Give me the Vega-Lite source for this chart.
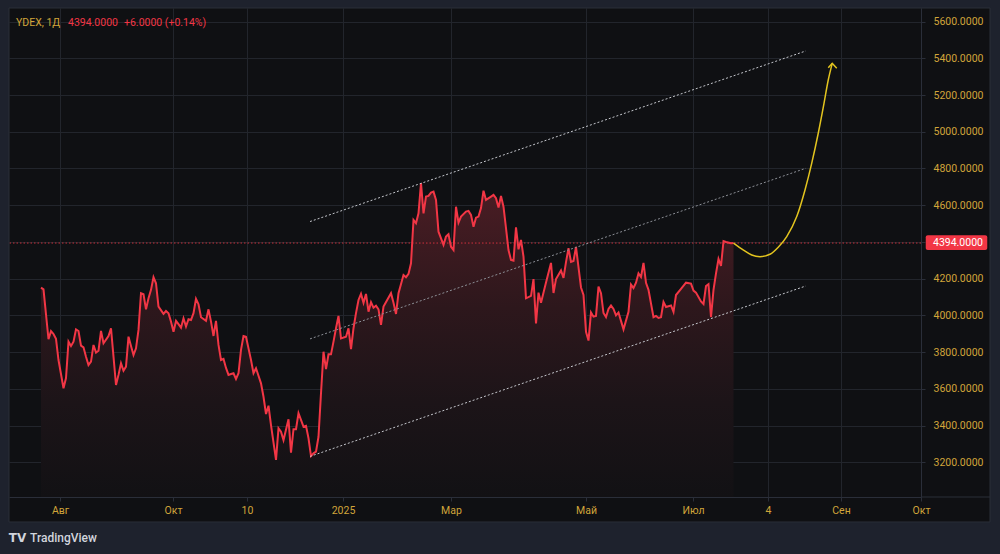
{
  "$schema": "https://vega.github.io/schema/vega-lite/v6.json",
  "width": 912,
  "height": 489,
  "autosize": {"type": "none"},
  "padding": {"left": 9, "top": 8, "right": 79, "bottom": 57},
  "background": "#0f1013",
  "config": {"view": {"stroke": null}, "font": "Roboto"},
  "datasets": {
    "price": [
      {"bar":0,"close":4151},{"bar":1,"close":4142},{"bar":3,"close":3870},{"bar":4,"close":3915},{"bar":5,"close":3899},{"bar":6,"close":3872},{"bar":7,"close":3757},{"bar":9,"close":3603},{"bar":10,"close":3659},{"bar":11,"close":3857},{"bar":12,"close":3833},{"bar":13,"close":3857},{"bar":14,"close":3924},{"bar":15,"close":3915},{"bar":16,"close":3835},{"bar":17,"close":3826},{"bar":18,"close":3775},{"bar":19,"close":3730},{"bar":20,"close":3748},{"bar":21,"close":3839},{"bar":22,"close":3797},{"bar":23,"close":3808},{"bar":24,"close":3915},{"bar":25,"close":3848},{"bar":27,"close":3888},{"bar":28,"close":3930},{"bar":29,"close":3775},{"bar":30,"close":3621},{"bar":31,"close":3676},{"bar":32,"close":3739},{"bar":33,"close":3699},{"bar":34,"close":3721},{"bar":35,"close":3884},{"bar":36,"close":3833},{"bar":37,"close":3784},{"bar":38,"close":3821},{"bar":39,"close":3921},{"bar":40,"close":4121},{"bar":41,"close":4115},{"bar":42,"close":4033},{"bar":43,"close":4093},{"bar":44,"close":4139},{"bar":45,"close":4208},{"bar":46,"close":4175},{"bar":47,"close":4048},{"bar":49,"close":4008},{"bar":50,"close":4024},{"bar":51,"close":4012},{"bar":52,"close":3966},{"bar":53,"close":3911},{"bar":54,"close":3970},{"bar":55,"close":3952},{"bar":56,"close":3933},{"bar":57,"close":3984},{"bar":58,"close":3939},{"bar":59,"close":3979},{"bar":60,"close":3975},{"bar":61,"close":4012},{"bar":62,"close":4090},{"bar":63,"close":4061},{"bar":64,"close":3990},{"bar":66,"close":3971},{"bar":67,"close":4033},{"bar":68,"close":3966},{"bar":69,"close":3888},{"bar":70,"close":3970},{"bar":71,"close":3839},{"bar":72,"close":3757},{"bar":73,"close":3763},{"bar":74,"close":3714},{"bar":75,"close":3676},{"bar":76,"close":3681},{"bar":77,"close":3685},{"bar":78,"close":3654},{"bar":79,"close":3685},{"bar":80,"close":3812},{"bar":81,"close":3888},{"bar":82,"close":3884},{"bar":84,"close":3757},{"bar":85,"close":3685},{"bar":86,"close":3712},{"bar":88,"close":3630},{"bar":89,"close":3557},{"bar":90,"close":3463},{"bar":91,"close":3508},{"bar":92,"close":3403},{"bar":94,"close":3213},{"bar":95,"close":3385},{"bar":96,"close":3367},{"bar":97,"close":3321},{"bar":99,"close":3434},{"bar":100,"close":3252},{"bar":101,"close":3380},{"bar":102,"close":3380},{"bar":103,"close":3467},{"bar":105,"close":3394},{"bar":106,"close":3399},{"bar":107,"close":3331},{"bar":108,"close":3234},{"bar":109,"close":3249},{"bar":110,"close":3258},{"bar":111,"close":3339},{"bar":112,"close":3576},{"bar":113,"close":3802},{"bar":114,"close":3707},{"bar":115,"close":3788},{"bar":116,"close":3788},{"bar":117,"close":3857},{"bar":118,"close":3930},{"bar":119,"close":3997},{"bar":120,"close":3875},{"bar":122,"close":3884},{"bar":123,"close":3930},{"bar":124,"close":3816},{"bar":125,"close":3930},{"bar":126,"close":4012},{"bar":127,"close":4084},{"bar":128,"close":4117},{"bar":129,"close":4069},{"bar":130,"close":4117},{"bar":131,"close":4020},{"bar":132,"close":4072},{"bar":133,"close":4042},{"bar":134,"close":4053},{"bar":135,"close":4033},{"bar":136,"close":3948},{"bar":137,"close":4048},{"bar":140,"close":4121},{"bar":141,"close":4069},{"bar":142,"close":4008},{"bar":143,"close":4121},{"bar":145,"close":4220},{"bar":146,"close":4208},{"bar":147,"close":4226},{"bar":148,"close":4284},{"bar":149,"close":4520},{"bar":150,"close":4502},{"bar":151,"close":4556},{"bar":152,"close":4720},{"bar":153,"close":4556},{"bar":154,"close":4647},{"bar":155,"close":4651},{"bar":156,"close":4669},{"bar":157,"close":4674},{"bar":158,"close":4629},{"bar":159,"close":4456},{"bar":161,"close":4384},{"bar":162,"close":4429},{"bar":163,"close":4442},{"bar":164,"close":4374},{"bar":165,"close":4356},{"bar":166,"close":4592},{"bar":167,"close":4505},{"bar":168,"close":4538},{"bar":170,"close":4565},{"bar":171,"close":4569},{"bar":172,"close":4547},{"bar":173,"close":4483},{"bar":174,"close":4532},{"bar":175,"close":4538},{"bar":176,"close":4584},{"bar":177,"close":4679},{"bar":178,"close":4629},{"bar":180,"close":4647},{"bar":181,"close":4656},{"bar":182,"close":4638},{"bar":183,"close":4587},{"bar":184,"close":4651},{"bar":185,"close":4592},{"bar":186,"close":4475},{"bar":187,"close":4356},{"bar":188,"close":4302},{"bar":189,"close":4298},{"bar":190,"close":4480},{"bar":191,"close":4360},{"bar":192,"close":4411},{"bar":193,"close":4320},{"bar":194,"close":4093},{"bar":196,"close":4106},{"bar":197,"close":4198},{"bar":198,"close":3956},{"bar":199,"close":4124},{"bar":200,"close":4069},{"bar":202,"close":4179},{"bar":204,"close":4286},{"bar":205,"close":4122},{"bar":206,"close":4198},{"bar":208,"close":4245},{"bar":209,"close":4204},{"bar":210,"close":4290},{"bar":211,"close":4366},{"bar":212,"close":4291},{"bar":213,"close":4296},{"bar":214,"close":4373},{"bar":216,"close":4152},{"bar":217,"close":4111},{"bar":218,"close":3911},{"bar":219,"close":3863},{"bar":220,"close":4016},{"bar":221,"close":3993},{"bar":222,"close":3997},{"bar":223,"close":4157},{"bar":224,"close":4121},{"bar":225,"close":4013},{"bar":226,"close":3991},{"bar":227,"close":4035},{"bar":228,"close":4054},{"bar":229,"close":4035},{"bar":230,"close":4000},{"bar":231,"close":4016},{"bar":232,"close":3970},{"bar":233,"close":3924},{"bar":235,"close":4020},{"bar":236,"close":4168},{"bar":237,"close":4149},{"bar":238,"close":4178},{"bar":239,"close":4229},{"bar":240,"close":4209},{"bar":241,"close":4286},{"bar":242,"close":4177},{"bar":243,"close":4139},{"bar":245,"close":3990},{"bar":246,"close":3997},{"bar":247,"close":3986},{"bar":248,"close":3990},{"bar":249,"close":4073},{"bar":250,"close":4046},{"bar":252,"close":4054},{"bar":253,"close":4019},{"bar":254,"close":4111},{"bar":256,"close":4144},{"bar":258,"close":4178},{"bar":260,"close":4173},{"bar":261,"close":4135},{"bar":262,"close":4124},{"bar":264,"close":4076},{"bar":265,"close":4062},{"bar":266,"close":4160},{"bar":267,"close":4170},{"bar":268,"close":3991},{"bar":269,"close":4139},{"bar":270,"close":4229},{"bar":271,"close":4307},{"bar":272,"close":4269},{"bar":273,"close":4405},{"bar":274,"close":4400},{"bar":276,"close":4393},{"bar":277,"close":4394}
    ],
    "forecast": [
      {"bar":277,"level":4394},{"bar":281,"level":4356},{"bar":284.3,"level":4329},{"bar":287.6,"level":4320},{"bar":291.6,"level":4333},{"bar":294.9,"level":4371},{"bar":298.3,"level":4429},{"bar":302.3,"level":4538},{"bar":305.6,"level":4683},{"bar":308.3,"level":4829},{"bar":310.9,"level":4992},{"bar":313.2,"level":5155},{"bar":314.9,"level":5282},{"bar":316.5,"level":5373}
    ],
    "arrowhead": [
      {"bar":314.9,"level":5349},{"bar":316.5,"level":5373},{"bar":318.3,"level":5346}
    ],
    "channel": [
      {"line":"upper","b0":107.6,"p0":4511,"b1":305.9,"p1":5440},
      {"line":"middle","b0":107.6,"p0":3872,"b1":305.9,"p1":4801},
      {"line":"lower","b0":107.6,"p0":3232,"b1":305.9,"p1":4160}
    ]
  },
  "layer": [
    {
      "data": {"name": "price"},
      "mark": {"type": "area", "clip": true, "color": {"gradient": "linear", "x1": 1, "y1": 1, "x2": 1, "y2": 0, "stops": [{"offset": 0, "color": "#121114"}, {"offset": 0.3, "color": "#1c1418"}, {"offset": 0.6, "color": "#2d171c"}, {"offset": 1, "color": "#4b1d24"}]}},
      "encoding": {
        "x": {"field": "bar", "type": "quantitative", "scale": {"domain": [-12.8, 352], "nice": false, "zero": false},
          "axis": {"values": [7.6, 52.8, 82.4, 120.8, 164, 218, 260.8, 290.8, 320, 352],
            "labelExpr": "datum.value < 20 ? 'Авг' : datum.value < 60 ? 'Окт' : datum.value < 100 ? '10' : datum.value < 140 ? '2025' : datum.value < 190 ? 'Мар' : datum.value < 240 ? 'Май' : datum.value < 275 ? 'Июл' : datum.value < 305 ? '4' : datum.value < 340 ? 'Сен' : 'Окт'",
            "title": null, "grid": true, "gridColor": "#22252c", "domainColor": "#2a2e39", "tickColor": "#2a2e39", "tickSize": 4,
            "labelColor": "#d1a53a", "labelFont": "Roboto", "labelFontSize": 10.5, "labelPadding": 9, "labelBaseline": "middle",
            "labelFlush": false, "labelOverlap": false, "labelBound": false}},
        "y": {"field": "close", "type": "quantitative", "scale": {"domain": [3011, 5674], "nice": false, "zero": false},
          "axis": {"orient": "right", "values": [3200, 3400, 3600, 3800, 4000, 4200, 4400, 4600, 4800, 5000, 5200, 5400, 5600],
            "format": ".4f", "title": null, "grid": true, "gridColor": "#22252c", "domainColor": "#2a2e39", "tickColor": "#2a2e39",
            "tickSize": 4, "labelPadding": 8, "labelColor": "#d1a53a", "labelFont": "Roboto", "labelFontSize": 10.5, "labelOverlap": false}},
        "y2": {"datum": 3011}
      }
    },
    {
      "data": {"name": "price"},
      "mark": {"type": "line", "color": "#f23645", "strokeWidth": 2, "clip": true},
      "encoding": {
        "x": {"field": "bar", "type": "quantitative"},
        "y": {"field": "close", "type": "quantitative"}
      }
    },
    {
      "data": {"values": [{}]},
      "mark": {"type": "rule", "color": "#f23645", "strokeWidth": 1, "strokeDash": [1.5, 2], "opacity": 0.8},
      "encoding": {"y": {"datum": 4394, "type": "quantitative"}}
    },
    {
      "data": {"name": "channel"},
      "mark": {"type": "rule", "strokeWidth": 1, "strokeDash": [2, 2]},
      "encoding": {
        "x": {"field": "b0", "type": "quantitative"},
        "x2": {"field": "b1"},
        "y": {"field": "p0", "type": "quantitative"},
        "y2": {"field": "p1"},
        "color": {"field": "line", "type": "nominal", "scale": {"domain": ["upper", "middle", "lower"], "range": ["#c4c6cc", "#8c8f96", "#c4c6cc"]}, "legend": null}
      }
    },
    {
      "data": {"name": "forecast"},
      "mark": {"type": "line", "color": "#e3c41f", "strokeWidth": 1.5, "interpolate": "monotone"},
      "encoding": {
        "x": {"field": "bar", "type": "quantitative"},
        "y": {"field": "level", "type": "quantitative"}
      }
    },
    {
      "data": {"name": "arrowhead"},
      "mark": {"type": "line", "color": "#e3c41f", "strokeWidth": 1.5},
      "encoding": {
        "x": {"field": "bar", "type": "quantitative"},
        "y": {"field": "level", "type": "quantitative"}
      }
    },
    {
      "data": {"values": [{}]},
      "mark": {"type": "rect", "fill": "#f23645", "cornerRadius": 2, "clip": false},
      "encoding": {
        "x": {"datum": 353.9, "type": "quantitative"}, "x2": {"datum": 378.5},
        "y": {"datum": 4436, "type": "quantitative"}, "y2": {"datum": 4356}
      }
    },
    {
      "data": {"values": [{}]},
      "mark": {"type": "text", "text": "4394.0000", "color": "#ffffff", "font": "Roboto", "fontSize": 10.5, "align": "left", "baseline": "middle", "clip": false},
      "encoding": {"x": {"datum": 356.8, "type": "quantitative"}, "y": {"datum": 4394, "type": "quantitative"}}
    },
    {
      "data": {"values": [{}]},
      "mark": {"type": "text", "text": "YDEX, 1Д", "color": "#d1a53a", "font": "Roboto", "fontSize": 10.5, "align": "left", "baseline": "middle", "clip": false},
      "encoding": {"x": {"datum": -10, "type": "quantitative"}, "y": {"datum": 5594, "type": "quantitative"}}
    },
    {
      "data": {"values": [{}]},
      "mark": {"type": "text", "text": "4394.0000", "color": "#f23645", "font": "Roboto", "fontSize": 10.5, "align": "left", "baseline": "middle", "clip": false},
      "encoding": {"x": {"datum": 10.8, "type": "quantitative"}, "y": {"datum": 5594, "type": "quantitative"}}
    },
    {
      "data": {"values": [{}]},
      "mark": {"type": "text", "text": "+6.0000 (+0.14%)", "color": "#f23645", "font": "Roboto", "fontSize": 10.5, "align": "left", "baseline": "middle", "clip": false},
      "encoding": {"x": {"datum": 33.2, "type": "quantitative"}, "y": {"datum": 5594, "type": "quantitative"}}
    },
    {
      "data": {"values": [{}]},
      "mark": {"type": "rule", "color": "#2a2e39", "strokeWidth": 1, "clip": false},
      "encoding": {"x": {"datum": 352, "type": "quantitative"}, "x2": {"datum": 379.6}, "y": {"datum": 3011, "type": "quantitative"}}
    },
    {
      "data": {"values": [{}]},
      "mark": {"type": "rect", "fill": "#1e222d", "clip": false},
      "encoding": {"x": {"datum": -20, "type": "quantitative"}, "x2": {"datum": -12.8}, "y": {"datum": 2600, "type": "quantitative"}, "y2": {"datum": 5800}}
    },
    {
      "data": {"values": [{}]},
      "mark": {"type": "rect", "fill": "#1e222d", "clip": false},
      "encoding": {"x": {"datum": 379.6, "type": "quantitative"}, "x2": {"datum": 392}, "y": {"datum": 2600, "type": "quantitative"}, "y2": {"datum": 5800}}
    },
    {
      "data": {"values": [{}]},
      "mark": {"type": "rect", "fill": "#1e222d", "clip": false},
      "encoding": {"x": {"datum": -20, "type": "quantitative"}, "x2": {"datum": 392}, "y": {"datum": 5674, "type": "quantitative"}, "y2": {"datum": 5800}}
    },
    {
      "data": {"values": [{}]},
      "mark": {"type": "rect", "fill": "#1e222d", "clip": false},
      "encoding": {"x": {"datum": -20, "type": "quantitative"}, "x2": {"datum": 392}, "y": {"datum": 2875, "type": "quantitative"}, "y2": {"datum": 2600}}
    },
    {
      "data": {"values": [{}]},
      "mark": {"type": "rect", "fill": "transparent", "stroke": "#2a2e39", "strokeWidth": 1, "clip": false},
      "encoding": {"x": {"datum": -12.8, "type": "quantitative"}, "x2": {"datum": 379.6}, "y": {"datum": 5674, "type": "quantitative"}, "y2": {"datum": 2875}}
    },
    {
      "data": {"values": [{}]},
      "mark": {"type": "text", "text": "TV", "color": "#d1d4dc", "font": "DejaVu Sans", "fontSize": 12, "fontWeight": 900, "align": "center", "baseline": "middle", "clip": false},
      "encoding": {"x": {"datum": -9.4, "type": "quantitative"}, "y": {"datum": 2788, "type": "quantitative"}}
    },
    {
      "data": {"values": [{}]},
      "mark": {"type": "text", "text": "TradingView", "color": "#d1d4dc", "font": "Roboto", "fontSize": 12, "fontWeight": 500, "align": "left", "baseline": "middle", "clip": false},
      "encoding": {"x": {"datum": -4.4, "type": "quantitative"}, "y": {"datum": 2788, "type": "quantitative"}}
    }
  ]
}
